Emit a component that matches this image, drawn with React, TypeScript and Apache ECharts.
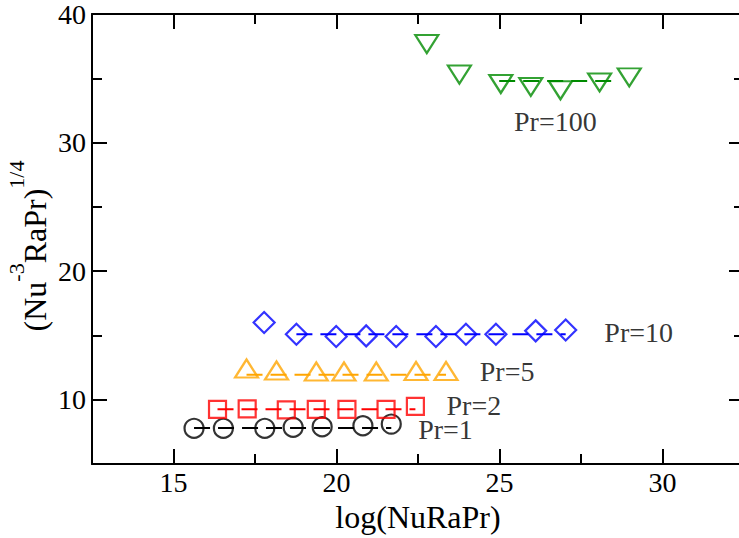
import React, { useEffect, useRef } from 'react';
import * as echarts from 'echarts';

// Axis ranges and tick values
const xRange = [12.5, 32.5];
const yRange = [5, 40];
const xTickValues = [12.5, 15, 17.5, 20, 22.5, 25, 27.5, 30, 32.5];
const yTickValues = [5, 10, 15, 20, 25, 30, 35, 40];

// Series data
const pr1X = [15.63, 16.53, 17.8, 18.67, 19.56, 20.81, 21.68];
const pr1Y = [7.78, 7.78, 7.78, 7.86, 7.9, 7.98, 8.11];
const pr2X = [16.35, 17.26, 18.46, 19.38, 20.32, 21.52, 22.42];
const pr2Y = [9.26, 9.3, 9.22, 9.26, 9.26, 9.26, 9.49];
const pr5X = [17.24, 18.16, 19.38, 20.23, 21.22, 22.44, 23.36];
const pr5Y = [12.43, 12.28, 12.2, 12.2, 12.2, 12.24, 12.24];
const pr10X = [17.78, 18.77, 19.99, 20.91, 21.83, 23.05, 23.97, 24.89, 26.11, 27.03];
const pr10Y = [16.01, 15.1, 14.92, 14.97, 14.92, 14.92, 15.1, 15.1, 15.36, 15.43];
const pr100X = [22.77, 23.77, 25.04, 25.96, 26.87, 28.07, 28.98];
const pr100Y = [37.66, 35.29, 34.56, 34.33, 34.07, 34.68, 35.07];

// Dashed mean lines
const meanY = [7.8, 9.26, 11.94, 15.1, 34.79];
const meanFrom = [15.63, 16.35, 17.24, 18.77, 24.99];
const meanTo = [21.68, 22.42, 23.36, 27.03, 28.6];

// Annotations
const labelText = ['Pr=1', 'Pr=2', 'Pr=5', 'Pr=10', 'Pr=100'];
const labelX = [22.49, 23.36, 24.38, 28.2, 25.43];
const labelY = [7.68, 9.55, 12.22, 15.24, 31.62];

const xTitle = 'log(NuRaPr)';

const FONT = 'Liberation Serif';
const colors = ['#000000', '#ff0000', '#ffa500', '#0000ff', '#008b00'];

export default function App() {
  const ref = useRef<HTMLDivElement>(null);
  useEffect(() => {
    document.body.style.margin = '0';
    if (!ref.current) return;
    const chart = echarts.init(ref.current, undefined, { renderer: 'svg' });

    const xsList = [pr1X, pr2X, pr5X, pr10X, pr100X];
    const ysList = [pr1Y, pr2Y, pr5Y, pr10Y, pr100Y];
    const symbols = ['circle', 'rect', 'triangle', 'diamond', 'triangle'];
    const sizes: any[] = [19, 17, [23, 18], 21, [23, 18]];
    const rotates = [0, 0, 0, 0, 180];

    const scatterSeries = xsList.map((xs, i) => ({
      type: 'scatter',
      xAxisIndex: 0,
      yAxisIndex: 0,
      silent: true,
      symbol: symbols[i],
      symbolSize: sizes[i],
      symbolRotate: rotates[i],
      itemStyle: { color: 'rgba(0,0,0,0)', borderColor: colors[i], borderWidth: 2.2 },
      data: xs.map((x, j) => [x, ysList[i][j]]),
      z: 3,
    }));

    const lineSeries = meanY.map((y, i) => ({
      type: 'line',
      xAxisIndex: 0,
      yAxisIndex: 0,
      silent: true,
      symbol: 'none',
      lineStyle: { color: colors[i], width: 2, type: [16, 8] },
      data: [
        [meanFrom[i], y],
        [meanTo[i], y],
      ],
      z: 2,
    }));

    const labelSeries = {
      type: 'scatter',
      xAxisIndex: 0,
      yAxisIndex: 0,
      silent: true,
      symbolSize: 1,
      itemStyle: { color: 'rgba(0,0,0,0)' },
      label: {
        show: true,
        position: 'right',
        distance: 0,
        color: '#000',
        fontFamily: FONT,
        fontSize: 28,
        lineHeight: 22,
        formatter: (p: any) => p.value[2],
      },
      data: labelX.map((x, i) => [x, labelY[i], labelText[i]]),
      z: 4,
    };

    const valueX = (pos: 'bottom' | 'top', labels: boolean) => ({
      type: 'value',
      position: pos,
      min: xRange[0],
      max: xRange[1],
      interval: 2.5,
      axisLine: { show: true, onZero: false, lineStyle: { color: '#000', width: 2 } },
      axisTick: { show: true, inside: true, length: 10, lineStyle: { color: '#000', width: 2 } },
      axisLabel: {
        show: labels,
        color: '#000',
        fontFamily: FONT,
        fontSize: 28,
        margin: 4,
        formatter: (v: number) => (v % 5 === 0 ? String(v) : ''),
      },
      splitLine: { show: false },
      ...(labels
        ? {
            name: xTitle,
            nameLocation: 'middle',
            nameGap: 36,
            nameTextStyle: { color: '#000', fontFamily: FONT, fontSize: 32 },
          }
        : {}),
    });

    const valueY = (pos: 'left' | 'right', labels: boolean) => ({
      type: 'value',
      position: pos,
      min: yRange[0],
      max: yRange[1],
      interval: 5,
      axisLine: { show: true, onZero: false, lineStyle: { color: '#000', width: 2 } },
      axisTick: { show: true, inside: true, length: 10, lineStyle: { color: '#000', width: 2 } },
      axisLabel: {
        show: labels,
        color: '#000',
        fontFamily: FONT,
        fontSize: 28,
        margin: 6,
        formatter: (v: number) => (v % 10 === 0 ? String(v) : ''),
      },
      splitLine: { show: false },
    });

    const majorX = (pos: 'bottom' | 'top') => ({
      type: 'category',
      position: pos,
      boundaryGap: false,
      data: xTickValues.map(String),
      axisLine: { show: false },
      axisTick: {
        show: true,
        inside: true,
        length: 15,
        interval: (idx: number) => idx % 2 === 1,
        lineStyle: { color: '#000', width: 2 },
      },
      axisLabel: { show: false },
      splitLine: { show: false },
    });

    const majorY = (pos: 'left' | 'right') => ({
      type: 'category',
      position: pos,
      boundaryGap: false,
      data: yTickValues.map(String),
      axisLine: { show: false },
      axisTick: {
        show: true,
        inside: true,
        length: 15,
        interval: (idx: number) => idx % 2 === 1,
        lineStyle: { color: '#000', width: 2 },
      },
      axisLabel: { show: false },
      splitLine: { show: false },
    });

    chart.setOption({
      animation: false,
      backgroundColor: '#ffffff',
      grid: { left: 92, top: 12, right: 1.5, bottom: 68.5, containLabel: false },
      xAxis: [valueX('bottom', true), valueX('top', false), majorX('bottom'), majorX('top')],
      yAxis: [valueY('left', true), valueY('right', false), majorY('left'), majorY('right')],
      graphic: [
        {
          type: 'text',
          x: 28,
          y: 246,
          rotation: Math.PI / 2,
          silent: true,
          style: {
            text: '{m|(Nu}{s|-3}{m|RaPr)}{s|1/4}',
            align: 'center',
            verticalAlign: 'middle',
            fill: '#000',
            rich: {
              m: { fontFamily: FONT, fontSize: 32, lineHeight: 46, verticalAlign: 'bottom', fill: '#000' },
              s: { fontFamily: FONT, fontSize: 22, lineHeight: 22, verticalAlign: 'top', fill: '#000' },
            },
          },
        },
      ],
      series: [...lineSeries, ...scatterSeries, labelSeries],
    });
    return () => chart.dispose();
  }, []);
  return (
    <div style={{ width: 739, height: 538, overflow: 'hidden', position: 'relative' }}>
      <div ref={ref} style={{ width: 747, height: 538 }} />
    </div>
  );
}
